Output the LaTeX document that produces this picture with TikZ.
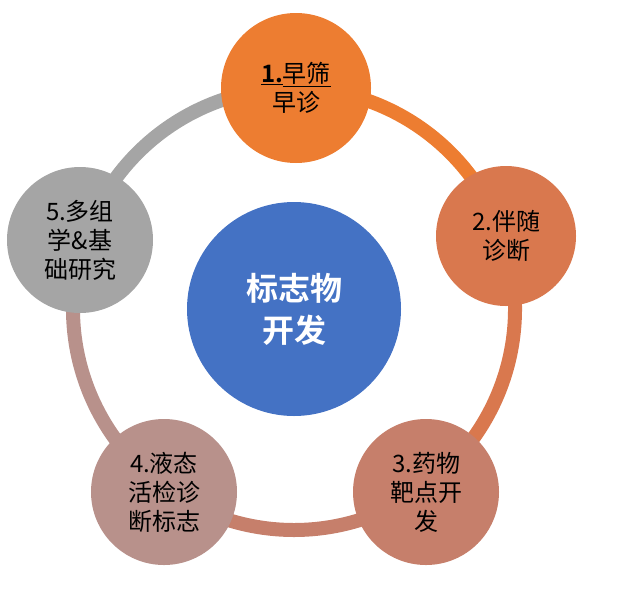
\documentclass[tikz,border=0pt]{standalone}
\usepackage{fontspec}
\setmainfont{Noto Sans CJK SC}[BoldFont={* Bold}]
\begin{document}
\begin{tikzpicture}[x=1pt,y=-1pt]
\useasboundingbox (0,0) rectangle (617,592);
\tikzset{sat/.style={circle,minimum size=146pt,inner sep=0pt,align=center,font=\fontsize{24}{29}\selectfont,text=black},
ring/.style={line width=14pt}}
\coordinate (c) at (294,309);
\definecolor{c1}{HTML}{ED7D31}
\definecolor{c2}{HTML}{D9784E}
\definecolor{c3}{HTML}{C67F6B}
\definecolor{c4}{HTML}{B8918B}
\definecolor{c5}{HTML}{A5A5A5}
\draw[ring,c1] (c) ++(90:-221) arc[start angle=-90,end angle=-18,radius=221];
\draw[ring,c2] (c) ++(-18:221) arc[start angle=-18,end angle=54,radius=221];
\draw[ring,c3] (c) ++(54:221) arc[start angle=54,end angle=126,radius=221];
\draw[ring,c4] (c) ++(126:221) arc[start angle=126,end angle=198,radius=221];
\draw[ring,c5] (c) ++(198:221) arc[start angle=198,end angle=270,radius=221];
\node[circle,fill={rgb,255:red,68;green,114;blue,196},minimum size=214pt,inner sep=0pt,text=white,align=center,font=\bfseries\fontsize{32}{42}\selectfont] (m) at (c) {标志物\\开发};
\node[sat,fill=c1,minimum size=150pt] (n1) at (296,88) {\underline{\bfseries 1.}\underline{早筛}\\早诊};
\node[sat,fill=c2,minimum size=140pt] (n2) at (506,236) {2.伴随\\诊断};
\node[sat,fill=c3] (n3) at (426,492) {3.药物\\靶点开\\发};
\node[sat,fill=c4] (n4) at (164,492) {4.液态\\活检诊\\断标志};
\node[sat,fill=c5] (n5) at (80,240) {5.多组\\学\&基\\础研究};
\end{tikzpicture}
\end{document}
